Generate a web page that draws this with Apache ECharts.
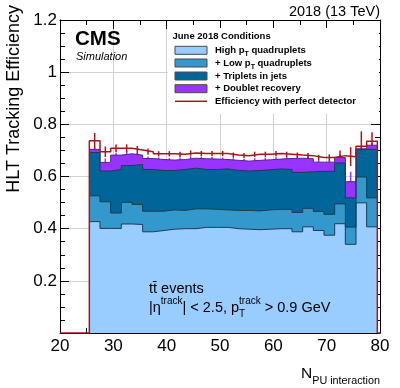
<!DOCTYPE html>
<html>
<head>
<meta charset="utf-8">
<title>HLT tracking efficiency vs pileup</title>
<script src="https://cdn.jsdelivr.net/npm/echarts@6.0.0/dist/echarts.min.js"></script>
<style>
  html, body { margin: 0; padding: 0; background: #fff; }
  #chart { width: 400px; height: 388px; }
</style>
</head>
<body>
<div id="chart"></div>
<script>
// histogram bin edges (N_PU, 2 interactions per bin)
const binEdges = [25.5, 27.5, 29.5, 31.5, 33.5, 35.5, 37.5, 39.5, 41.5, 43.5, 45.5, 47.5, 49.5, 51.5,
  53.5, 55.5, 57.5, 59.5, 61.5, 63.5, 65.5, 67.5, 69.5, 71.5, 73.5, 75.5, 77.5, 79.5];

// cumulative efficiencies, one value per bin
const highPt = [0.427, 0.401, 0.401, 0.418, 0.416, 0.388, 0.393, 0.398, 0.400, 0.400, 0.405, 0.405, 0.405, 0.400,
  0.398, 0.396, 0.398, 0.400, 0.400, 0.388, 0.407, 0.393, 0.375, 0.419, 0.340, 0.499, 0.407];
const lowPt = [0.526, 0.503, 0.460, 0.501, 0.493, 0.467, 0.467, 0.472, 0.470, 0.476, 0.476, 0.474, 0.472, 0.470,
  0.470, 0.468, 0.472, 0.474, 0.474, 0.462, 0.478, 0.466, 0.455, 0.495, 0.406, 0.598, 0.518];
const triplets = [0.692, 0.621, 0.627, 0.642, 0.646, 0.627, 0.623, 0.623, 0.627, 0.632, 0.627, 0.627, 0.629, 0.623,
  0.621, 0.623, 0.626, 0.629, 0.627, 0.616, 0.618, 0.620, 0.620, 0.652, 0.518, 0.704, 0.704];
const doublets = [0.704, 0.654, 0.682, 0.687, 0.682, 0.669, 0.665, 0.663, 0.665, 0.670, 0.668, 0.667, 0.665, 0.662,
  0.659, 0.662, 0.664, 0.667, 0.669, 0.670, 0.668, 0.655, 0.655, 0.673, 0.580, 0.706, 0.720];
const doubletsErr = [0.008, 0.015, 0.008, 0.008, 0.008, 0.008, 0.008, 0.008, 0.008, 0.008, 0.008, 0.008, 0.008, 0.008,
  0.008, 0.008, 0.008, 0.008, 0.008, 0.008, 0.008, 0.008, 0.008, 0.010, 0.038, 0.008, 0.008];
const perfect = [0.737, 0.695, 0.708, 0.708, 0.702, 0.695, 0.687, 0.687, 0.685, 0.690, 0.688, 0.688, 0.688, 0.682,
  0.680, 0.685, 0.685, 0.688, 0.685, 0.682, 0.680, 0.673, 0.673, 0.680, 0.676, 0.716, 0.735];
const perfectErr = [0.030, 0.020, 0.015, 0.015, 0.015, 0.012, 0.010, 0.010, 0.010, 0.010, 0.010, 0.010, 0.010, 0.010,
  0.010, 0.010, 0.010, 0.010, 0.010, 0.010, 0.010, 0.010, 0.012, 0.020, 0.036, 0.057, 0.035];

const xTicks = { min: 20, max: 80, interval: 10 };
const yTicks = { min: 0, max: 1.2, interval: 0.2 };

const FONT = "'Liberation Sans', Arial, Helvetica, sans-serif";
const colors = {
  highPt: "#99ccff",
  lowPt: "#3399cc",
  triplets: "#006699",
  doublets: "#9933ff",
  perfect: "#a8161b",
  edge: "#1d3b52"
};

// step outline of a histogram: [left edge, value] + closing point at last right edge
function histPoints(vals) {
  let pts = vals.map((v, i) => [binEdges[i], v]);
  pts.push([binEdges[vals.length], vals[vals.length - 1]]);
  return pts;
}

function layer(name, vals, fill, edge) {
  return {
    name: name,
    type: "line",
    step: "end",
    data: histPoints(vals),
    symbol: "none",
    silent: true,
    lineStyle: { color: edge, width: 1 },
    areaStyle: { color: fill, opacity: 1 }
  };
}

function errorBars(vals, errs, color, width) {
  let data = vals.map((v, i) => [(binEdges[i] + binEdges[i + 1]) / 2, v - errs[i], v + errs[i]]);
  return {
    type: "custom",
    silent: true,
    data: data,
    encode: { x: 0, y: [1, 2] },
    renderItem: function(params, api) {
      let p1 = api.coord([api.value(0), api.value(1)]);
      let p2 = api.coord([api.value(0), api.value(2)]);
      return {
        type: "line",
        shape: { x1: p1[0], y1: p1[1], x2: p2[0], y2: p2[1] },
        style: { stroke: color, lineWidth: width }
      };
    }
  };
}

// perfect detector histogram is zero outside the filled range
let perfectPts = [[xTicks.min, 0]].concat(perfect.map((v, i) => [binEdges[i], v]));
perfectPts.push([binEdges[binEdges.length - 1], 0], [xTicks.max, 0]);

function frameAxis(extra) {
  return Object.assign({
    type: "value",
    axisLine: { show: true, onZero: false, lineStyle: { color: "#000", width: 1 } },
    axisTick: { show: true, inside: true, length: 9, lineStyle: { color: "#000" } },
    minorTick: { show: true, length: 5, lineStyle: { color: "#000" } },
    splitLine: { show: false }
  }, extra);
}

// legend (drawn by hand, ROOT style)
const legendTitle = "June 2018 Conditions";
const legendRows = [
  { text: "{b|High p}{s|T}{b| quadruplets}", color: colors.highPt, y: 50.3 },
  { text: "{b|+ Low p}{s|T}{b| quadruplets}", color: colors.lowPt, y: 63 },
  { text: "{b|+ Triplets in jets}", color: colors.triplets, y: 76 },
  { text: "{b|+ Doublet recovery}", color: colors.doublets, y: 88.7 },
  { text: "{b|Efficiency with perfect detector}", color: null, y: 101.3 }
];
const legendRich = {
  b: { fontFamily: FONT, fontSize: 9.5, fontWeight: "bold", color: "#000", height: 12, verticalAlign: "top" },
  s: { fontFamily: FONT, fontSize: 7, fontWeight: "bold", color: "#000", height: 20, verticalAlign: "top" }
};

let graphics = [
  { type: "text", x: 380, y: 12, style: { text: "2018 (13 TeV)", font: "14.5px " + FONT, fill: "#000", align: "right", verticalAlign: "middle" } },
  { type: "text", x: 75, y: 39, style: { text: "CMS", font: "bold 20.5px " + FONT, fill: "#000", verticalAlign: "middle" } },
  { type: "text", x: 76, y: 57, style: { text: "Simulation", font: "italic 11px " + FONT, fill: "#000", verticalAlign: "middle" } },
  // white legend pad hides the grid lines behind it
  { type: "rect", shape: { x: 168, y: 28, width: 211, height: 86 }, style: { fill: "#fff" } },
  { type: "text", x: 172.5, y: 36.3, style: { text: legendTitle, font: "bold 9.5px " + FONT, fill: "#000", verticalAlign: "middle" } },
  {
    type: "text", x: 14, y: 5, rotation: Math.PI / 2,
    style: { text: "HLT Tracking Efficiency", font: "18px " + FONT, fill: "#000", align: "right", verticalAlign: "middle" }
  },
  {
    type: "text", x: 380, y: 365,
    style: {
      text: "{n|N}{s|PU interaction}", align: "right", verticalAlign: "top",
      rich: {
        n: { fontFamily: FONT, fontSize: 15.5, color: "#000", height: 18, verticalAlign: "top" },
        s: { fontFamily: FONT, fontSize: 10.8, color: "#000", height: 33, verticalAlign: "top" }
      }
    }
  },
  { type: "text", x: 149, y: 289, style: { text: "tt\u0304 events", font: "14.5px " + FONT, fill: "#000", verticalAlign: "middle" } },
  {
    type: "text", x: 149, y: 299,
    style: {
      text: "{n||\u03b7}{u|track}{n|| < 2.5, p}{d|T}{u|track}{n| > 0.9 GeV}", verticalAlign: "top",
      rich: {
        n: { fontFamily: FONT, fontSize: 14.5, color: "#000", height: 18, verticalAlign: "top" },
        u: { fontFamily: FONT, fontSize: 10, color: "#000", height: 4, verticalAlign: "top" },
        d: { fontFamily: FONT, fontSize: 10, color: "#000", height: 30, verticalAlign: "top", width: 0 }
      }
    }
  }
];

legendRows.forEach(function(row) {
  if (row.color) {
    graphics.push({ type: "rect", shape: { x: 175, y: row.y - 4, width: 32, height: 8 },
      style: { fill: row.color, stroke: "#4a4a4a", lineWidth: 1 } });
  } else {
    graphics.push({ type: "line", shape: { x1: 175, y1: row.y, x2: 207, y2: row.y },
      style: { stroke: colors.perfect, lineWidth: 1.5 } });
  }
  graphics.push({ type: "text", x: 215, y: row.y - 6,
    style: { text: row.text, rich: legendRich, verticalAlign: "top" } });
});

// graphics go above the series
graphics.forEach(function(g, i) { g.z = 100 + i; });

let option = {
  backgroundColor: "#fff",
  animation: false,
  grid: { left: 60, right: 20, top: 20, bottom: 55 },
  xAxis: [
    frameAxis({
      min: xTicks.min, max: xTicks.max, interval: xTicks.interval, position: "bottom",
      minorTick: { show: true, splitNumber: 2, length: 5, lineStyle: { color: "#000" } },
      axisLabel: { fontSize: 17, fontFamily: FONT, color: "#000", margin: 5 },
      splitLine: { show: true, lineStyle: { color: "#d2d2d2", width: 1 } }
    }),
    frameAxis({
      min: xTicks.min, max: xTicks.max, interval: xTicks.interval, position: "top",
      minorTick: { show: true, splitNumber: 2, length: 5, lineStyle: { color: "#000" } },
      axisLabel: { show: false }
    })
  ],
  yAxis: [
    frameAxis({
      min: yTicks.min, max: yTicks.max, interval: yTicks.interval, position: "left",
      minorTick: { show: true, splitNumber: 4, length: 5, lineStyle: { color: "#000" } },
      axisLabel: {
        fontSize: 17, fontFamily: FONT, color: "#000", margin: 3,
        formatter: function(v) { return v === 0 ? "" : String(+v.toFixed(1)); }
      },
      splitLine: { show: true, lineStyle: { color: "#d2d2d2", width: 1 } }
    }),
    frameAxis({
      min: yTicks.min, max: yTicks.max, interval: yTicks.interval, position: "right",
      minorTick: { show: true, splitNumber: 4, length: 5, lineStyle: { color: "#000" } },
      axisLabel: { show: false }
    })
  ],
  series: [
    // drawn back to front: highest cumulative first
    layer("+ Doublet recovery", doublets, colors.doublets, "#5b1f99"),
    layer("+ Triplets in jets", triplets, colors.triplets, colors.edge),
    layer("+ Low pT quadruplets", lowPt, colors.lowPt, colors.edge),
    layer("High pT quadruplets", highPt, colors.highPt, colors.edge),
    errorBars(doublets, doubletsErr, colors.doublets, 1.5),
    {
      name: "Efficiency with perfect detector",
      type: "line",
      step: "end",
      data: perfectPts,
      symbol: "none",
      silent: true,
      lineStyle: { color: colors.perfect, width: 1.5 }
    },
    errorBars(perfect, perfectErr, colors.perfect, 1.5)
  ],
  graphic: graphics
};

let chart = echarts.init(document.getElementById("chart"));
chart.setOption(option);
</script>
</body>
</html>
